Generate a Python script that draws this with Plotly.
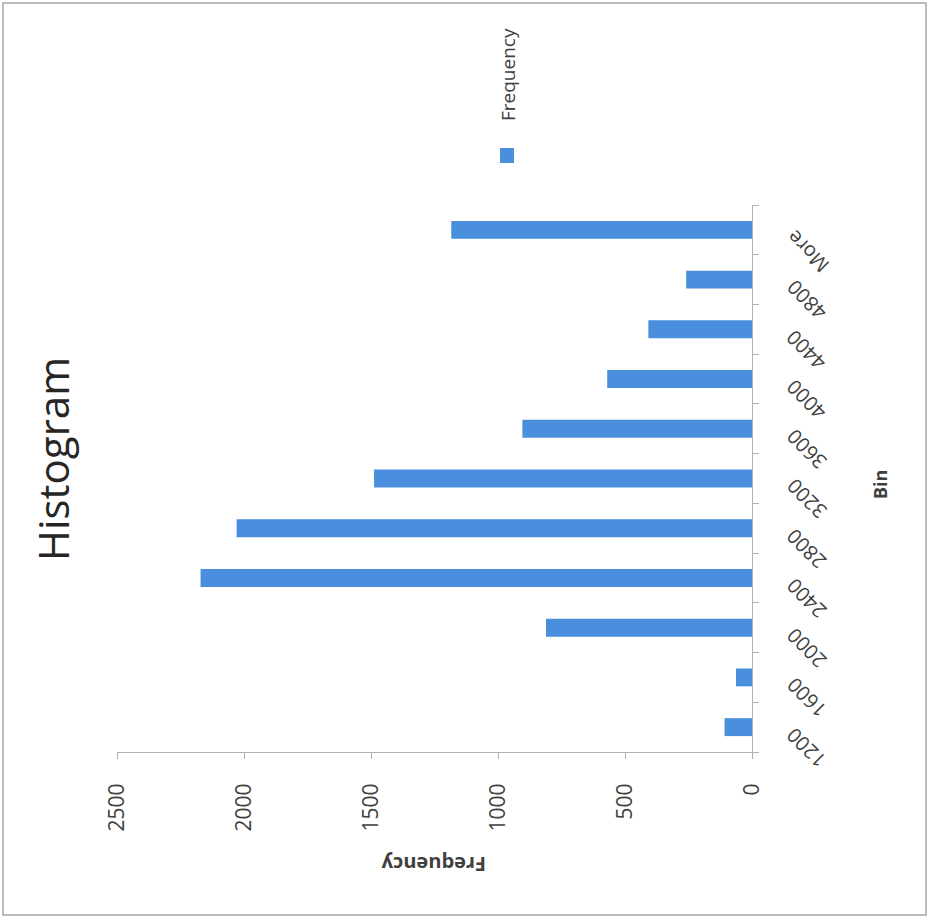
import plotly.graph_objects as go

bins = ["1200", "1600", "2000", "2400", "2800", "3200", "3600", "4000", "4400", "4800", "More"]
frequency = [108, 63, 811, 2171, 2029, 1488, 904, 570, 408, 259, 1184]
value_ticks = [0, 500, 1000, 1500, 2000, 2500]

W, H = 930, 921
FONT = "Open Sans"
TXT = "#404040"

def px(x):
    return x / W

def py(y):
    return 1 - y / H

fig = go.Figure()
fig.add_trace(go.Bar(
    y=bins, x=frequency, orientation="h", name="Frequency",
    marker=dict(color="#4a8fdd", line=dict(width=0)),
    showlegend=False,
))

fig.update_layout(
    width=W, height=H,
    margin=dict(l=0, r=0, t=0, b=0),
    paper_bgcolor="white", plot_bgcolor="white",
    bargap=0.64,
    font=dict(family=FONT, color=TXT),
    xaxis=dict(
        domain=[px(117), px(752)],
        range=[2500, 0],
        tickvals=value_ticks,
        ticktext=[str(v) for v in value_ticks],
        tickangle=-90,
        tickfont=dict(size=21, color=TXT, family=FONT),
        ticklabelstandoff=16,
        showgrid=False, zeroline=False,
        showline=True, linecolor="#b0b0b0", linewidth=1,
        ticks="outside", ticklen=6, tickcolor="#b0b0b0",
        anchor="y", automargin=False,
    ),
    yaxis=dict(
        type="category",
        domain=[py(752), py(205)],
        side="right",
        categoryorder="array", categoryarray=bins,
        range=[-0.5, len(bins) - 0.5],
        showticklabels=False,
        showgrid=False, zeroline=False,
        showline=True, linecolor="#b0b0b0", linewidth=1,
        ticks="outside", ticklen=6, tickcolor="#b0b0b0",
        tickson="boundaries",
        anchor="x", automargin=False,
    ),
)

annotations = [
    dict(text="Histogram", x=px(52), y=py(459), textangle=-90,
         font=dict(size=42, color="#262626", family=FONT),
         xref="paper", yref="paper", xanchor="center", yanchor="middle"),
    dict(text="<b>Frequency</b>", x=px(434), y=py(865), textangle=180,
         font=dict(size=20, color=TXT, family=FONT),
         xref="paper", yref="paper", xanchor="center", yanchor="middle"),
    dict(text="<b>Bin</b>", x=px(880), y=py(485), textangle=-90,
         font=dict(size=18, color=TXT, family=FONT),
         xref="paper", yref="paper", xanchor="center", yanchor="middle"),
    dict(text="Frequency", x=px(508), y=py(75), textangle=-90,
         font=dict(size=19, color=TXT, family=FONT),
         xref="paper", yref="paper", xanchor="center", yanchor="middle"),
]
for i, b in enumerate(bins):
    annotations.append(dict(
        text=b, x=px(778), y=i, xref="paper", yref="y",
        textangle=-135, xanchor="left", yanchor="top", yshift=8,
        font=dict(size=20, color=TXT, family=FONT),
    ))
for a in annotations:
    a.update(showarrow=False)
fig.update_layout(annotations=annotations)

fig.add_shape(type="rect", xref="paper", yref="paper",
              x0=px(500), x1=px(514), y0=py(163), y1=py(148),
              fillcolor="#4a8fdd", line=dict(width=0))
fig.add_shape(type="rect", xref="paper", yref="paper",
              x0=px(3), x1=px(926), y0=py(915), y1=py(3),
              fillcolor="rgba(0,0,0,0)", line=dict(color="#a8a8a8", width=1.5))

fig.write_html("out.html")
